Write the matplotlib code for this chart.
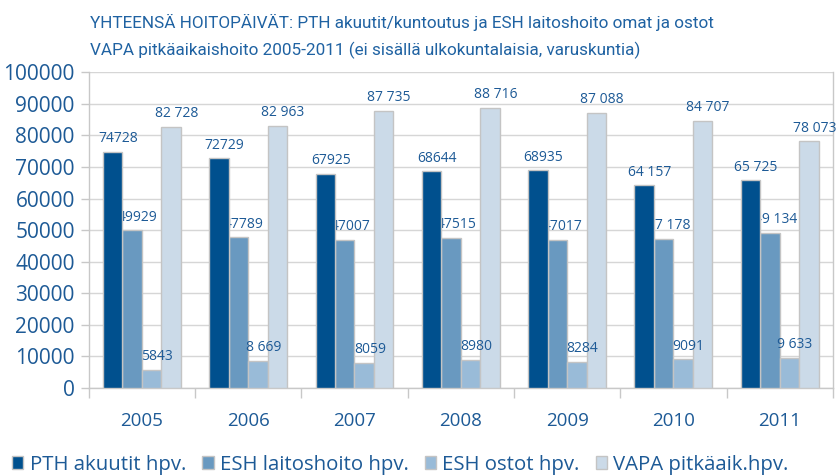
import matplotlib
matplotlib.use("Agg")
import matplotlib.pyplot as plt
import numpy as np

years = ["2005", "2006", "2007", "2008", "2009", "2010", "2011"]
series_names = ["PTH akuutit hpv.", "ESH laitoshoito hpv.", "ESH ostot hpv.", "VAPA pitkäaik.hpv."]
pth = [74728, 72729, 67925, 68644, 68935, 64157, 65725]
esh_laitos = [49929, 47789, 47007, 47515, 47017, 47178, 49134]
esh_ostot = [5843, 8669, 8059, 8980, 8284, 9091, 9633]
vapa = [82728, 82963, 87735, 88716, 87088, 84707, 78073]
pth_lbl = ["74728", "72729", "67925", "68644", "68935", "64 157", "65 725"]
laitos_lbl = ["49929", "47789", "47007", "47515", "47017", "47 178", "49 134"]
ostot_lbl = ["5843", "8 669", "8059", "8980", "8284", "9091", "9 633"]
vapa_lbl = ["82 728", "82 963", "87 735", "88 716", "87 088", "84 707", "78 073"]

colors = ["#00508e", "#6999c0", "#99bbd8", "#cbdae8"]
txt = "#1d5a96"
plt.rcParams['font.family'] = ['Open Sans', 'DejaVu Sans']

fig = plt.figure(figsize=(8.37, 4.75), dpi=100)
ax = fig.add_axes([0.106, 0.183, 0.889, 0.665])

x = np.arange(len(years))
w = 0.183
data = [pth, esh_laitos, esh_ostot, vapa]
labels = [pth_lbl, laitos_lbl, ostot_lbl, vapa_lbl]
for k in range(4):
    pos = x + (k - 1.5) * w
    z = 5 if k == 0 else 3
    ax.bar(pos, data[k], w, color=colors[k], edgecolor="#c4c4c4", linewidth=1,
           zorder=z, label=series_names[k])
    for p, v, s in zip(pos, data[k], labels[k]):
        ax.annotate(s, xy=(p, v), xytext=(4, 4), textcoords="offset points",
                    ha="center", va="bottom", fontsize=10, color=txt, zorder=4)

ax.set_xlim(-0.5, 6.5)
ax.set_ylim(0, 100000)
ax.set_yticks(range(0, 100001, 10000))
ax.tick_params(axis='y', labelsize=15, colors="#c8c8c8", labelcolor=txt, length=6, width=1, pad=4)
ax.set_xticks(x)
ax.set_xticklabels(years)
ax.set_xticks(np.arange(-0.5, 7, 1), minor=True)
ax.tick_params(axis='x', which='major', length=0, labelsize=13.5, labelcolor=txt, pad=17)
ax.tick_params(axis='x', which='minor', length=7, width=1, color="#c8c8c8")
ax.grid(axis='y', color="#d6d6d6", linewidth=1, zorder=0)
ax.set_axisbelow(True)
for sp in ax.spines.values():
    sp.set_color("#c8c8c8")
    sp.set_linewidth(1)
ax.spines['top'].set_visible(False)

title_font = ['Roboto', 'DejaVu Sans']
fig.text(0.108, 0.942, "YHTEENSÄ HOITOPÄIVÄT: PTH akuutit/kuntoutus ja ESH laitoshoito omat ja ostot",
         fontsize=12.3, color="#1f62a2", family=title_font, va="baseline")
fig.text(0.108, 0.883, "VAPA pitkäaikaishoito 2005-2011 (ei sisällä ulkokuntalaisia, varuskuntia)",
         fontsize=12.3, color="#1f62a2", family=title_font, va="baseline")

fig.legend(loc="lower left", bbox_to_anchor=(0.0, -0.025), ncol=4, frameon=False,
           fontsize=14.7, labelcolor=txt, handlelength=0.55, handleheight=0.55,
           handletextpad=0.3, columnspacing=0.8, borderaxespad=0.2)

fig.savefig("out.png", dpi=100)
